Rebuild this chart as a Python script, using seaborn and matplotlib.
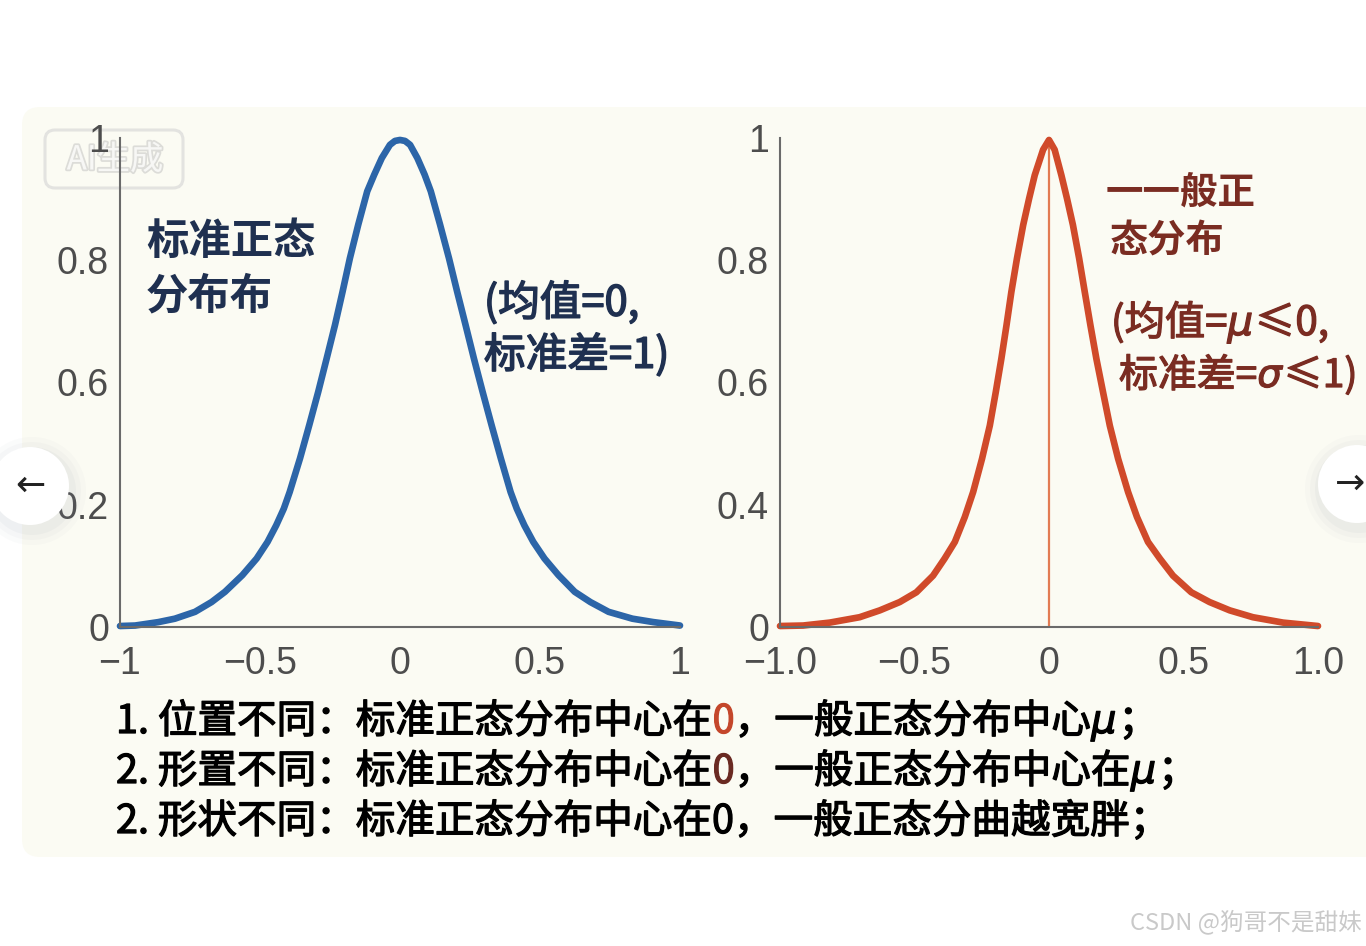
import matplotlib
matplotlib.use("Agg")
import matplotlib.pyplot as plt
import matplotlib.patheffects as pe
from matplotlib.patches import FancyBboxPatch, Circle
import seaborn as sns

# ---------------------------------------------------------------------------
# Data
# ---------------------------------------------------------------------------
STD_X = [-1.0, -0.946, -0.863, -0.804, -0.732, -0.673, -0.625, -0.563, -0.512,
         -0.473, -0.442, -0.415, -0.394, -0.357, -0.324, -0.292, -0.262, -0.232,
         -0.205, -0.179, -0.149, -0.117, -0.092, -0.065, -0.036, -0.018, 0.0,
         0.018, 0.036, 0.062, 0.088, 0.110, 0.143, 0.175, 0.204, 0.234, 0.264,
         0.295, 0.327, 0.360, 0.395, 0.417, 0.444, 0.476, 0.516, 0.566, 0.624,
         0.680, 0.745, 0.830, 0.905, 1.0]
STD_Y = [0.002, 0.003, 0.010, 0.017, 0.031, 0.051, 0.072, 0.106, 0.140,
         0.174, 0.208, 0.242, 0.276, 0.345, 0.413, 0.481, 0.549, 0.618,
         0.686, 0.754, 0.823, 0.891, 0.925, 0.959, 0.986, 0.994, 0.996,
         0.994, 0.986, 0.959, 0.925, 0.891, 0.823, 0.754, 0.686, 0.618, 0.549,
         0.481, 0.413, 0.345, 0.276, 0.242, 0.208, 0.174, 0.140, 0.106, 0.072,
         0.051, 0.031, 0.017, 0.010, 0.003]

GEN_X = [-1.0, -0.914, -0.815, -0.704, -0.629, -0.555, -0.493, -0.431, -0.388,
         -0.350, -0.313, -0.282, -0.249, -0.220, -0.198, -0.177, -0.158, -0.140,
         -0.119, -0.096, -0.074, -0.053, -0.022, 0.0, 0.021, 0.046, 0.067,
         0.089, 0.112, 0.133, 0.154, 0.176, 0.201, 0.226, 0.257, 0.294, 0.327,
         0.368, 0.412, 0.461, 0.529, 0.597, 0.672, 0.758, 0.870, 0.981, 1.0]
GEN_Y = [0.002, 0.003, 0.009, 0.020, 0.034, 0.051, 0.071, 0.105, 0.140,
         0.174, 0.225, 0.276, 0.344, 0.412, 0.480, 0.549, 0.617, 0.685,
         0.754, 0.822, 0.876, 0.924, 0.976, 0.996, 0.976, 0.924, 0.876,
         0.822, 0.754, 0.685, 0.617, 0.549, 0.480, 0.412, 0.344, 0.276, 0.225,
         0.174, 0.140, 0.105, 0.071, 0.051, 0.034, 0.020, 0.009, 0.003, 0.002]

Y_TICKS = [0, 0.25, 0.5, 0.75, 1.0]
STD_YLABELS = ["0", "0.2", "0.6", "0.8", "1"]
GEN_YLABELS = ["0", "0.4", "0.6", "0.8", "1"]
X_TICKS = [-1, -0.5, 0, 0.5, 1]
STD_XLABELS = ["\u22121", "\u22120.5", "0", "0.5", "1"]
GEN_XLABELS = ["\u22121.0", "\u22120.5", "0", "0.5", "1.0"]

# ---------------------------------------------------------------------------
# Style
# ---------------------------------------------------------------------------
W, H = 1366, 946
PANEL = "#fbfbf3"
BLUE = "#2c65a8"
RED = "#d04a2a"
NAVY = "#1f3050"
MAROON = "#7a2c22"
TICK = "#4d4d4d"
SPINE = "#6a6a6a"
CJK = ["Noto Sans CJK SC", "DejaVu Sans"]
NUM = ["Liberation Sans", "DejaVu Sans"]

sns.set_theme(style="white")
plt.rcParams["font.family"] = CJK
plt.rcParams["axes.unicode_minus"] = True

# bottom notes: (text, colour, italic)
NOTES = [
    [("1. 位置不同：标准正态分布中心在", "black", False), ("0", "#c4472b", False),
     ("，一般正态分布中心", "black", False), ("μ", "black", True), ("；", "black", False)],
    [("2. 形置不同：标准正态分布中心在", "black", False), ("0", "#6a2a22", False),
     ("，一般正态分布中心在", "black", False), ("μ", "black", True), ("；", "black", False)],
    [("2. 形状不同：标准正态分布中心在0，一般正态分曲越宽胖；", "black", False)],
]
GEN_NOTE = [
    [("(均值=", MAROON, False), ("μ", MAROON, True), ("≤0,", MAROON, False)],
    [("标准差=", MAROON, False), ("σ", MAROON, True), ("≤1)", MAROON, False)],
]


def thick(col, w=0.9):
    # fake a medium weight by stroking the glyphs in their own colour
    return [pe.withStroke(linewidth=w, foreground=col)]


def px_axes(fig, z):
    ax = fig.add_axes([0, 0, 1, 1], zorder=z)
    ax.set_xlim(0, W)
    ax.set_ylim(H, 0)
    ax.axis("off")
    ax.patch.set_alpha(0)
    return ax


def style_axes(ax, xlabels, ylabels):
    ax.set_facecolor("none")
    ax.set_xlim(-1, 1)
    ax.set_ylim(0, 1)
    ax.set_xticks(X_TICKS)
    ax.set_xticklabels(xlabels)
    ax.set_yticks(Y_TICKS)
    ax.set_yticklabels(ylabels)
    ax.set_xlabel("")
    ax.set_ylabel("")
    for side in ("top", "right"):
        ax.spines[side].set_visible(False)
    for side in ("left", "bottom"):
        ax.spines[side].set_color(SPINE)
        ax.spines[side].set_linewidth(1.5)
    ax.tick_params(direction="in", length=10, width=1.5, color=SPINE,
                   labelcolor=TICK, labelsize=27)
    ax.tick_params(axis="x", pad=14)
    ax.tick_params(axis="y", pad=8)
    for lab in ax.get_xticklabels() + ax.get_yticklabels():
        lab.set_family(NUM)
    ax.grid(False)


def chain(ax, pieces, x, y, size):
    # lay out coloured pieces one after another on a shared baseline
    renderer = ax.figure.canvas.get_renderer()
    inv = ax.transData.inverted()
    for text, col, ital in pieces:
        if ital:
            kw = dict(family=["DejaVu Sans"], style="italic")
        else:
            kw = dict(family=CJK)
        t = ax.text(x, y, text, color=col, fontsize=size, va="baseline", ha="left",
                    path_effects=thick(col), **kw)
        x1 = t.get_window_extent(renderer).x1
        x = inv.transform((x1, 0))[0] + (2 if ital else 0)


fig = plt.figure(figsize=(W / 100, H / 100), dpi=100)
fig.patch.set_facecolor("white")

bg = px_axes(fig, -5)
bg.add_patch(FancyBboxPatch((22, 107), 1400, 750, boxstyle="round,pad=0,rounding_size=18",
                            facecolor=PANEL, edgecolor="none"))
# "AI生成" watermark
bg.add_patch(FancyBboxPatch((45, 130), 138, 58, boxstyle="round,pad=0,rounding_size=10",
                            facecolor="none", edgecolor="#e3e3e0", linewidth=2.2))
bg.text(115, 160, "AI生成", fontsize=24, color="#f7f7f5", ha="center", va="center",
        path_effects=[pe.withStroke(linewidth=2.5, foreground="#dcdcd8")])

# ---------------------------------------------------------------------------
# Left: standard normal
# ---------------------------------------------------------------------------
ax1 = fig.add_axes([120 / W, 1 - 627 / H, 560 / W, 489 / H])
sns.lineplot(x=STD_X, y=STD_Y, ax=ax1, color=BLUE, linewidth=4.8, estimator=None,
             sort=False, clip_on=False, solid_capstyle="round", solid_joinstyle="round")
style_axes(ax1, STD_XLABELS, STD_YLABELS)

# ---------------------------------------------------------------------------
# Right: general normal
# ---------------------------------------------------------------------------
ax2 = fig.add_axes([780 / W, 1 - 627 / H, 538 / W, 489 / H])
ax2.vlines(0, 0, max(GEN_Y), color="#e27b52", linewidth=1.6, zorder=1)
sns.lineplot(x=GEN_X, y=GEN_Y, ax=ax2, color=RED, linewidth=4.8, estimator=None,
             sort=False, clip_on=False, solid_capstyle="round", solid_joinstyle="round",
             zorder=2)
style_axes(ax2, GEN_XLABELS, GEN_YLABELS)

# ---------------------------------------------------------------------------
# Annotations
# ---------------------------------------------------------------------------
top = px_axes(fig, 5)
top.text(146, 242, "标准正态", fontsize=30.5, fontweight="bold", color=NAVY, va="center")
top.text(146, 296, "分布布", fontsize=30.5, fontweight="bold", color=NAVY, va="center")
top.text(484, 303, "(均值=0,", fontsize=30, color=NAVY, va="center", path_effects=thick(NAVY, 1.1))
top.text(484, 355, "标准差=1)", fontsize=30, color=NAVY, va="center", path_effects=thick(NAVY, 1.1))

top.text(1106, 192, "一一般正", fontsize=27, fontweight="bold", color=MAROON, va="center")
top.text(1110, 241, "态分布", fontsize=27.5, fontweight="bold", color=MAROON, va="center")
chain(top, GEN_NOTE[0], 1111, 335, 29)
chain(top, GEN_NOTE[1], 1119, 387, 28)

for i, line in enumerate(NOTES):
    chain(top, line, 116, 733 + 50 * i, 28.5)

top.text(1362, 922, "CSDN @狗哥不是甜妹", fontsize=17, color="#c9c9c9", ha="right", va="center")

# navigation buttons
for cx, cy, ax_x, arrow in [(30, 486, 30, "\u2190"), (1357, 484, 1350, "\u2192")]:
    for r, a in [(54, 0.035), (49, 0.045), (44, 0.06)]:
        top.add_patch(Circle((cx + 2, cy + 5), r, facecolor="#8a94a6", alpha=a, edgecolor="none"))
    top.add_patch(Circle((cx, cy), 39, facecolor="white", edgecolor="none"))
    top.text(ax_x, cy, arrow, fontsize=26, family=["DejaVu Sans"], color="#222222",
             ha="center", va="center")

fig.savefig("out.png", dpi=100)
